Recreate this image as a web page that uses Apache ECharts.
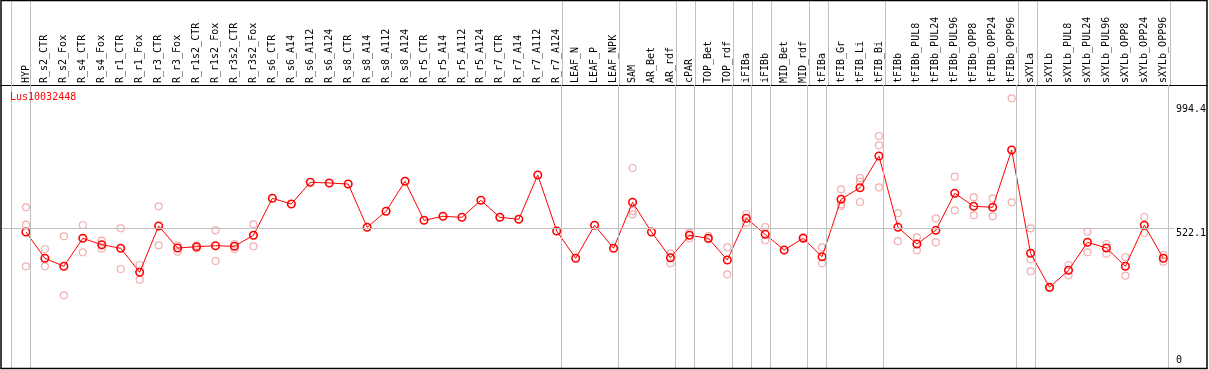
<!DOCTYPE html>
<html>
<head>
<meta charset="utf-8">
<script src="https://cdn.jsdelivr.net/npm/echarts@6/dist/echarts.min.js"></script>
<style>
html,body{margin:0;padding:0;background:#fff;}
#chart{width:1209px;height:370px;}
</style>
</head>
<body>
<div id="chart"></div>
<script>
const chartTitle = 'Lus10032448';

const categories = [
  'HYP','R_s2_CTR','R_s2_Fox','R_s4_CTR','R_s4_Fox','R_r1_CTR','R_r1_Fox','R_r3_CTR','R_r3_Fox',
  'R_r1s2_CTR','R_r1s2_Fox','R_r3s2_CTR','R_r3s2_Fox',
  'R_s6_CTR','R_s6_A14','R_s6_A112','R_s6_A124','R_s8_CTR','R_s8_A14','R_s8_A112','R_s8_A124',
  'R_r5_CTR','R_r5_A14','R_r5_A112','R_r5_A124','R_r7_CTR','R_r7_A14','R_r7_A112','R_r7_A124',
  'LEAF_N','LEAF_P','LEAF_NPK','SAM','AR_Bet','AR_rdf','cPAR','TOP_Bet','TOP_rdf','iFIBa','iFIBb',
  'MID_Bet','MID_rdf','tFIBa','tFIB_Gr','tFIB_Li','tFIB_Bi','tFIBb',
  'tFIBb_PUL8','tFIBb_PUL24','tFIBb_PUL96','tFIBb_OPP8','tFIBb_OPP24','tFIBb_OPP96',
  'sXYLa','sXYLb','sXYLb_PUL8','sXYLb_PUL24','sXYLb_PUL96','sXYLb_OPP8','sXYLb_OPP24','sXYLb_OPP96'
];

const means = [
  508.0, 408.1, 377.7, 484.0, 459.7, 446.1, 354.9, 530.8, 447.2,
  452.1, 455.9, 453.7, 495.4,
  636.0, 614.4, 696.8, 694.2, 690.3, 525.8, 586.6, 700.6,
  552.4, 567.6, 563.8, 628.4, 563.8, 556.2, 724.5, 511.8,
  408.1, 533.4, 446.1, 620.8, 508.0, 410.3, 495.4, 484.0, 401.6, 560.0, 499.2,
  439.6, 484.0, 414.1, 632.2, 676.3, 796.7, 525.8,
  462.4, 514.4, 655.0, 605.6, 601.8, 819.5,
  427.0, 297.9, 362.5, 468.8, 447.2, 377.7, 533.4, 408.1
];

const replicates = [
  [601.8, 535.7, 377.7], [443.4, 377.7], [491.6, 267.5], [534.6, 430.9], [474.9, 444.5],
  [522.0, 367.4], [382.6, 326.7], [605.6, 457.4], [455.9, 433.1],
  [455.9, 446.1], [514.4, 397.8], [462.4, 443.4], [537.2, 453.7],
  [], [], [], [], [], [], [], [],
  [], [], [], [], [], [], [], [],
  [], [], [], [751.1, 587.8, 575.2], [], [427.0, 389.1], [505.3, 484.0], [492.8, 480.2],
  [449.9, 347.3], [576.4, 543.3], [527.0, 476.4],
  [], [489.0], [449.9, 389.1], [670.2, 613.2, 606.8], [713.2, 699.8, 622.0], [872.7, 837.4, 677.8],
  [579.0, 473.0],
  [487.8, 438.5], [560.0, 468.8], [718.1, 590.4], [639.8, 571.4], [636.0, 567.6], [1016.0, 620.8],
  [522.0, 404.3, 358.7], [295.2], [382.6, 343.5], [509.1, 430.9], [462.4, 425.5],
  [413.0, 342.0], [565.0, 504.2], [420.6, 395.1]
];

// index of the last category of each group (-1 = left edge)
const groupEnds = [-1, 0, 28, 31, 34, 35, 37, 38, 39, 41, 42, 45, 52, 53, 60];

const yTickLabels = [0, 522.1, 994.4];
const referenceValue = 522.1;

// ---- layout constants ----
const X_MIN = -1.3158, X_MAX = 62.158;
const Y_MIN = -10.6, Y_MAX = 1066.5;
const DIV_OFFSET = 0.237;
const REF_END = 60.58;
const FONT = 'DejaVu Sans Mono';

const repData = [];
replicates.forEach((arr, i) => arr.forEach(v => repData.push([i, v])));
const meanData = means.map((v, i) => [i, v]);
const dividerData = groupEnds.map(g => ({ xAxis: g + DIV_OFFSET }));
const dividerStyle = { color: '#c0c0c0', width: 1, type: 'solid' };

const chart = echarts.init(document.getElementById('chart'), null, { renderer: 'canvas' });
chart.setOption({
  animation: false,
  backgroundColor: '#fff',
  title: {
    text: chartTitle, left: 10, top: 92, padding: 0,
    textStyle: { color: '#ff0000', fontSize: 10, fontFamily: FONT, fontWeight: 'normal' }
  },
  grid: [
    { left: 1, right: 2, top: 0, height: 85 },
    { left: 1, right: 2, top: 85, bottom: 1.5 }
  ],
  xAxis: [
    {
      gridIndex: 0, type: 'value', position: 'bottom', min: X_MIN, max: X_MAX,
      axisLine: { show: true, onZero: false, lineStyle: { color: '#000', width: 1 } },
      axisTick: { show: false }, splitLine: { show: false }, axisLabel: { show: false }
    },
    {
      gridIndex: 1, type: 'value', position: 'top', min: X_MIN, max: X_MAX,
      axisLine: { show: false },
      axisTick: { show: false }, splitLine: { show: false },
      axisLabel: {
        customValues: categories.map((c, i) => i),
        formatter: v => categories[Math.round(v)] || '',
        rotate: 90, margin: 2, color: '#000', fontSize: 10, fontFamily: FONT
      }
    }
  ],
  yAxis: [
    { gridIndex: 0, type: 'value', min: 0, max: 1, show: false },
    {
      gridIndex: 1, type: 'value', position: 'right', min: Y_MIN, max: Y_MAX,
      axisLine: { show: false, onZero: false }, axisTick: { show: false }, splitLine: { show: false },
      axisLabel: {
        customValues: yTickLabels.filter(v => v !== 0),
        formatter: v => String(v),
        inside: true, align: 'left', verticalAlign: 'top', margin: 28.3,
        color: '#000', fontSize: 10, fontFamily: FONT
      }
    },
    {
      gridIndex: 1, type: 'value', position: 'right', min: Y_MIN, max: Y_MAX,
      axisLine: { show: false, onZero: false }, axisTick: { show: false }, splitLine: { show: false },
      axisLabel: {
        customValues: yTickLabels.filter(v => v === 0),
        formatter: v => String(v),
        inside: true, align: 'left', verticalAlign: 'bottom', margin: 28.3,
        color: '#000', fontSize: 10, fontFamily: FONT
      }
    }
  ],
  series: [
    {
      type: 'line', xAxisIndex: 0, yAxisIndex: 0, data: [], silent: true,
      markLine: { symbol: 'none', silent: true, animation: false, label: { show: false },
        lineStyle: dividerStyle, data: dividerData }
    },
    {
      name: 'replicates', type: 'scatter', xAxisIndex: 1, yAxisIndex: 1, z: 2,
      data: repData, symbol: 'circle', symbolSize: 7,
      itemStyle: { color: 'rgba(0,0,0,0)', borderColor: '#f09898', borderWidth: 1.2 },
      markLine: {
        symbol: 'none', silent: true, animation: false, label: { show: false },
        lineStyle: dividerStyle,
        data: dividerData.concat([[
          { coord: [X_MIN, referenceValue] }, { coord: [REF_END, referenceValue] }
        ]])
      }
    },
    {
      name: 'mean', type: 'line', xAxisIndex: 1, yAxisIndex: 1, z: 3,
      data: meanData, symbol: 'circle', symbolSize: 7.5, showAllSymbol: true,
      lineStyle: { color: '#ff0000', width: 1 },
      itemStyle: { color: 'rgba(0,0,0,0)', borderColor: '#ff0000', borderWidth: 1.6 }
    }
  ],
  graphic: [{
    type: 'rect', silent: true, z: 100,
    shape: { x: 1, y: 0.5, width: 1206, height: 368 },
    style: { fill: 'none', stroke: '#000', lineWidth: 1.5 }
  }]
});
</script>
</body>
</html>
